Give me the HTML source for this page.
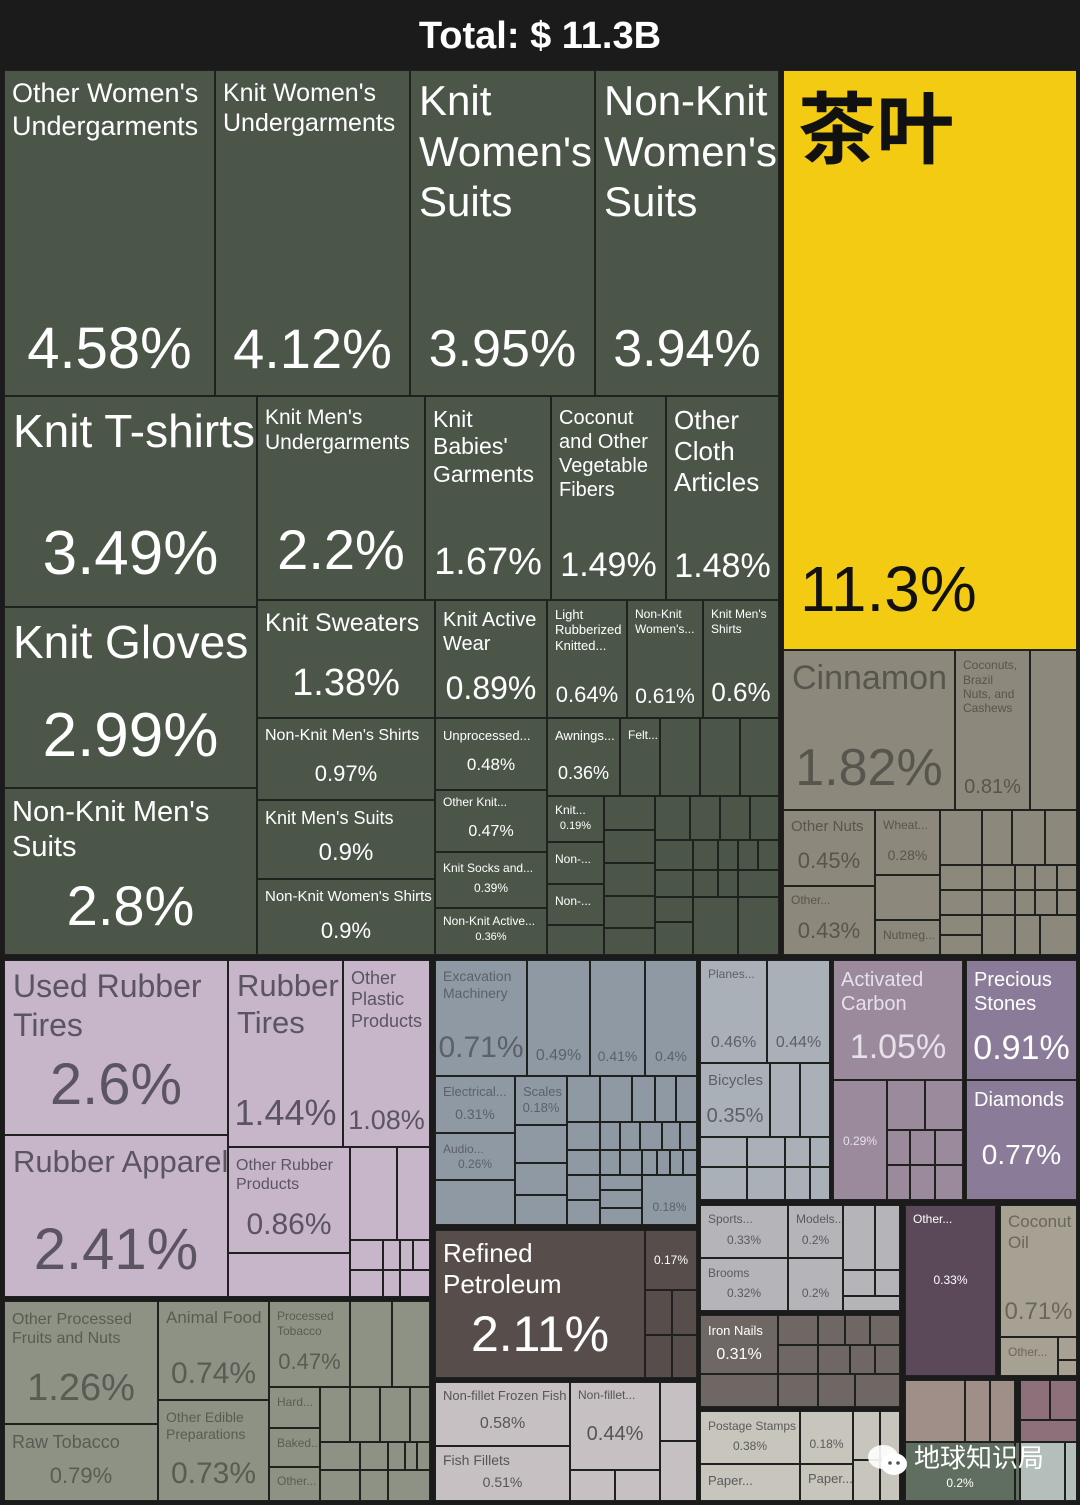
<!DOCTYPE html>
<html><head><meta charset="utf-8">
<style>
html,body{margin:0;padding:0;background:#1b1b1b;}
#root{position:relative;width:1080px;height:1505px;overflow:hidden;background:#1b1b1b;font-family:"Liberation Sans","Noto Sans CJK SC",sans-serif;}
#title{position:absolute;left:0;top:0;width:1080px;height:70px;line-height:72px;text-align:center;color:#fff;font-weight:bold;font-size:38px;}
.t{position:absolute;box-sizing:border-box;border:1.5px solid #1e211e;overflow:hidden;}
.l{position:absolute;left:8px;right:2px;white-space:pre;line-height:1.2;}
.p{position:absolute;left:0;right:0;text-align:center;white-space:nowrap;line-height:1.2;}
#wm{position:absolute;left:866px;top:1438px;color:#fff;font-size:26px;font-family:"Liberation Sans","Noto Sans CJK SC",sans-serif;}
</style></head>
<body>
<div id="root">
<div id="title">Total: $ 11.3B</div>
</div>
<script>
const colors={G:['#4b5649','#ffffff'],Y:['#f3cb12','#111111'],T:['#8c887b','#58554e'],L:['#c7b5ca','#5a5560'],F:['#8d9284','#595c54'],M:['#8f99a4','#5c6169'],V:['#aab0b7','#5d6067'],A:['#9a8a9c','#e6e0e8'],P:['#8a7c98','#ffffff'],R:['#574e4c','#ffffff'],H:['#c7c0c2','#555555'],S:['#b5b4b8','#5a5a5e'],N:['#6f6764','#ffffff'],Q:['#c8c5bd','#5a5a5a'],O:['#5b4858','#ffffff'],C:['#a7a193','#6a6658'],K:['#a08e89','#fff'],U:['#8d7079','#fff'],W:['#5f6e5f','#ffffff'],X:['#b4bebb','#555']};
// labelled tiles: [x1,y1,x2,y2,color,label,value,labelSize,labelCenterY,valueSize,valueCenterY]
const labels=["Other Women's\nUndergarments","Knit Women's\nUndergarments","Knit\nWomen's\nSuits","Non-Knit\nWomen's\nSuits","Knit T-shirts","Knit Gloves","Non-Knit Men's\nSuits","Knit Men's\nUndergarments","Knit\nBabies'\nGarments","Coconut\nand Other\nVegetable\nFibers","Other\nCloth\nArticles","Knit Sweaters","Knit Active\nWear","Light\nRubberized\nKnitted...","Non-Knit\nWomen's...","Knit Men's\nShirts","Non-Knit Men's Shirts","Knit Men's Suits","Non-Knit Women's Shirts","Unprocessed...","Other Knit...","Knit Socks and...","Non-Knit Active...","Awnings...","Felt...","Knit...","Non-...","Non-...","茶叶","Cinnamon","Coconuts,\nBrazil\nNuts, and\nCashews","Other Nuts","Wheat...","Other...","Nutmeg...","Used Rubber\nTires","Rubber Apparel","Rubber\nTires","Other\nPlastic\nProducts","Other Rubber\nProducts","Other Processed\nFruits and Nuts","Raw Tobacco","Animal Food","Other Edible\nPreparations","Processed\nTobacco","Hard...","Baked...","Other...","Excavation\nMachinery","","","","Electrical...","Audio...","Scales","","Planes...","","Bicycles","Activated\nCarbon","","Precious\nStones","Diamonds","Refined\nPetroleum","","Non-fillet Frozen Fish","Fish Fillets","Non-fillet...","Sports...","Models...","Brooms","","Iron Nails","Postage Stamps","","Paper...","Paper...","Other...","Coconut\nOil","Other...",""];
const values=["4.58%","4.12%","3.95%","3.94%","3.49%","2.99%","2.8%","2.2%","1.67%","1.49%","1.48%","1.38%","0.89%","0.64%","0.61%","0.6%","0.97%","0.9%","0.9%","0.48%","0.47%","0.39%","0.36%","0.36%","","0.19%","","","11.3%","1.82%","0.81%","0.45%","0.28%","0.43%","","2.6%","2.41%","1.44%","1.08%","0.86%","1.26%","0.79%","0.74%","0.73%","0.47%","","","","0.71%","0.49%","0.41%","0.4%","0.31%","0.26%","0.18%","0.18%","0.46%","0.44%","0.35%","1.05%","0.29%","0.91%","0.77%","2.11%","0.17%","0.58%","0.51%","0.44%","0.33%","0.2%","0.32%","0.2%","0.31%","0.38%","0.18%","","","0.33%","0.71%","","0.2%"];
const layout=[
[4,70,215,396,'G',27,94,58,349],[215,70,410,396,'G',25,93,56,349],[410,70,595,396,'G',42,102,52,350],[595,70,779,396,'G',42,102,52,350],
[4,396,257,607,'G',46,432,62,555],[4,607,257,788,'G',46,643,62,737],[4,788,257,955,'G',29,813,56,906],
[257,396,425,600,'G',21,418,56,550],[425,396,551,600,'G',23,420,38,563],[551,396,666,600,'G',20,418,34,566],[666,396,779,600,'G',26,421,34,567],
[257,600,435,718,'G',25,623,38,684],[435,600,547,718,'G',20,620,32,689],[547,600,627,718,'G',13,615,22,696],[627,600,703,718,'G',12,615,21,697],[703,600,779,718,'G',12,615,26,693],
[257,718,435,800,'G',16,736,22,775],[257,800,435,879,'G',18,819,24,854],[257,879,435,955,'G',15,897,22,932],
[435,718,547,790,'G',13,736,17,766],[435,790,547,852,'G',12,803,16,832],[435,852,547,908,'G',12,869,12,889],[435,908,547,955,'G',12,922,11,938],
[547,718,620,796,'G',13,736,18,774],[620,718,660,796,'G',12,736,12,0],[547,796,604,842,'G',12,811,11,827],[547,842,604,884,'G',12,860,12,0],[547,884,604,925,'G',12,902,12,0],
[783,70,1077,650,'Y',78,123,64,590],
[783,650,955,810,'T',34,679,52,769],[955,650,1030,810,'T',12,666,20,787],[783,810,875,886,'T',15,827,22,862],[875,810,940,875,'T',12,826,14,856],[783,886,875,955,'T',12,901,22,932],[875,920,940,955,'T',12,936,12,0],
[4,960,228,1135,'L',32,987,58,1085],[4,1135,228,1297,'L',31,1162,58,1250],[228,960,343,1147,'L',31,986,36,1113],[343,960,430,1147,'L',18,979,27,1121],[228,1147,350,1253,'L',16,1166,30,1225],
[4,1301,158,1424,'F',16,1320,38,1389],[4,1424,158,1501,'F',18,1443,22,1477],[158,1301,269,1400,'F',17,1319,30,1374],[158,1400,269,1501,'F',14,1418,30,1474],[269,1301,350,1387,'F',12,1317,22,1363],
[269,1387,320,1428,'F',12,1403,12,0],[269,1428,320,1467,'F',12,1444,12,0],[269,1467,320,1501,'F',12,1482,12,0],
[435,960,527,1076,'M',14,977,30,1048],[527,960,590,1076,'M',14,977,16,1056],[590,960,645,1076,'M',14,977,14,1057],[645,960,697,1076,'M',14,977,14,1057],
[435,1076,515,1133,'M',13,1092,14,1115],[435,1133,515,1180,'M',12,1150,12,1165],[515,1076,567,1125,'M',13,1092,13,1108],[642,1175,697,1225,'M',12,1190,12,1208],
[700,960,767,1063,'V',12,975,16,1043],[767,960,830,1063,'V',12,975,16,1043],[700,1063,770,1137,'V',15,1081,20,1116],
[833,960,963,1080,'A',20,980,34,1048],[833,1080,887,1200,'A',12,1100,12,1142],
[966,960,1077,1080,'P',20,980,34,1049],[966,1080,1077,1200,'P',20,1100,28,1155],
[435,1230,645,1378,'R',26,1254,50,1334],[645,1230,697,1290,'R',12,1245,12,1261],
[435,1382,570,1446,'H',13,1396,16,1424],[435,1446,570,1501,'H',14,1461,14,1483],[570,1382,660,1470,'H',12,1396,20,1434],
[700,1205,788,1258,'S',12,1220,12,1241],[788,1205,843,1258,'S',12,1220,12,1241],[700,1258,788,1311,'S',12,1274,12,1294],[788,1258,843,1311,'S',12,1274,12,1294],
[700,1315,778,1374,'N',13,1331,16,1355],
[700,1411,800,1464,'Q',12,1427,12,1447],[800,1411,853,1464,'Q',12,1427,12,1445],[700,1464,800,1501,'Q',13,1481,12,0],[800,1464,853,1501,'Q',13,1479,12,0],
[905,1205,996,1376,'O',12,1220,12,1281],[1000,1205,1077,1337,'C',17,1223,24,1313],[1000,1337,1058,1376,'C',12,1353,12,0],
[905,1442,1015,1501,'W',12,1460,12,1484]
];
// unlabelled small tiles: [x1,y1,x2,y2,color]
const blanks=[
[660,718,700,796,'G'],[700,718,740,796,'G'],[740,718,779,796,'G'],[547,925,604,955,'G'],
[604,796,655,830,'G'],[604,830,655,863,'G'],[604,863,655,896,'G'],[604,896,655,928,'G'],[604,928,655,955,'G'],
[655,796,690,840,'G'],[690,796,720,840,'G'],[720,796,750,840,'G'],[750,796,779,840,'G'],
[655,840,693,870,'G'],[693,840,718,870,'G'],[718,840,738,870,'G'],[738,840,758,870,'G'],[758,840,779,870,'G'],
[655,870,693,897,'G'],[693,870,718,897,'G'],[718,870,738,897,'G'],[738,870,779,897,'G'],
[655,897,693,922,'G'],[693,897,738,955,'G'],[738,897,779,955,'G'],[655,922,693,955,'G'],
[1030,650,1077,810,'T'],[875,875,940,920,'T'],[940,810,982,865,'T'],[982,810,1012,865,'T'],[1012,810,1045,865,'T'],[1045,810,1077,865,'T'],
[940,865,982,890,'T'],[982,865,1015,890,'T'],[1015,865,1035,890,'T'],[1035,865,1057,890,'T'],[1057,865,1077,890,'T'],
[940,890,982,915,'T'],[982,890,1015,915,'T'],[1015,890,1035,915,'T'],[1035,890,1057,915,'T'],[1057,890,1077,915,'T'],
[940,915,982,935,'T'],[940,935,982,955,'T'],[982,915,1015,955,'T'],[1015,915,1040,955,'T'],[1040,915,1077,955,'T'],
[228,1253,350,1297,'L'],[350,1147,397,1240,'L'],[397,1147,430,1240,'L'],[350,1240,383,1270,'L'],[383,1240,400,1270,'L'],[400,1240,413,1270,'L'],[413,1240,430,1270,'L'],[350,1270,383,1297,'L'],[383,1270,400,1297,'L'],[400,1270,430,1297,'L'],
[350,1301,392,1387,'F'],[392,1301,430,1387,'F'],[320,1387,350,1442,'F'],[350,1387,380,1442,'F'],[380,1387,410,1442,'F'],[410,1387,430,1442,'F'],
[320,1442,360,1470,'F'],[360,1442,388,1470,'F'],[388,1442,405,1470,'F'],[405,1442,417,1470,'F'],[417,1442,430,1470,'F'],[320,1470,360,1501,'F'],[360,1470,388,1501,'F'],[388,1470,430,1501,'F'],
[435,1180,515,1225,'M'],[515,1125,567,1163,'M'],[515,1163,567,1195,'M'],[515,1195,567,1225,'M'],
[567,1076,600,1122,'M'],[600,1076,632,1122,'M'],[632,1076,655,1122,'M'],[655,1076,676,1122,'M'],[676,1076,697,1122,'M'],
[567,1122,600,1150,'M'],[600,1122,620,1150,'M'],[620,1122,640,1150,'M'],[640,1122,662,1150,'M'],[662,1122,680,1150,'M'],[680,1122,697,1150,'M'],
[567,1150,600,1175,'M'],[600,1150,620,1175,'M'],[620,1150,642,1175,'M'],[642,1150,657,1175,'M'],[657,1150,670,1175,'M'],[670,1150,683,1175,'M'],[683,1150,697,1175,'M'],
[567,1175,600,1200,'M'],[567,1200,600,1225,'M'],[600,1175,642,1190,'M'],[600,1190,642,1208,'M'],[600,1208,642,1225,'M'],
[770,1063,800,1137,'V'],[800,1063,830,1137,'V'],[700,1137,747,1167,'V'],[747,1137,785,1167,'V'],[785,1137,810,1167,'V'],[810,1137,830,1167,'V'],[700,1167,747,1200,'V'],[747,1167,785,1200,'V'],[785,1167,810,1200,'V'],[810,1167,830,1200,'V'],
[887,1080,925,1130,'A'],[925,1080,963,1130,'A'],[887,1130,910,1165,'A'],[910,1130,935,1165,'A'],[935,1130,963,1165,'A'],[887,1165,910,1200,'A'],[910,1165,935,1200,'A'],[935,1165,963,1200,'A'],
[645,1290,672,1335,'R'],[672,1290,697,1335,'R'],[645,1335,672,1378,'R'],[672,1335,697,1378,'R'],
[570,1470,615,1501,'H'],[615,1470,660,1501,'H'],[660,1382,697,1441,'H'],[660,1441,697,1501,'H'],
[843,1205,875,1270,'S'],[875,1205,900,1270,'S'],[843,1270,875,1296,'S'],[875,1270,900,1296,'S'],[843,1296,900,1311,'S'],
[778,1315,818,1345,'N'],[818,1315,845,1345,'N'],[845,1315,870,1345,'N'],[870,1315,900,1345,'N'],[778,1345,818,1374,'N'],[818,1345,850,1374,'N'],[850,1345,875,1374,'N'],[875,1345,900,1374,'N'],
[700,1374,778,1407,'N'],[778,1374,818,1407,'N'],[818,1374,855,1407,'N'],[855,1374,900,1407,'N'],
[853,1411,880,1460,'Q'],[880,1411,900,1460,'Q'],[853,1460,880,1501,'Q'],[880,1460,900,1501,'Q'],
[996,1205,996,1205,'O'],[905,1298,948,1350,'O'],[948,1298,975,1350,'O'],[975,1298,996,1350,'O'],[905,1350,948,1376,'O'],[948,1350,996,1376,'O'],[958,1205,996,1298,'O'],
[1058,1337,1077,1360,'C'],[1058,1360,1077,1376,'C'],
[905,1380,965,1442,'K'],[965,1380,990,1442,'K'],[990,1380,1015,1442,'K'],[1020,1380,1050,1420,'U'],[1050,1380,1077,1420,'U'],[1020,1420,1077,1442,'U'],
[1015,1442,1020,1501,'W'],[1020,1442,1065,1501,'X'],[1065,1442,1077,1501,'X']
];
const root=document.getElementById('root');
function slug(s){return (s||'tile').toLowerCase().replace(/[^a-z0-9\u4e00-\u9fff]+/g,'-').replace(/^-|-$/g,'')||'tile';}
blanks.forEach(b=>{
  const d=document.createElement('div');d.className='t';
  
  
  d.style.cssText=`left:${b[0]}px;top:${b[1]}px;width:${b[2]-b[0]}px;height:${b[3]-b[1]}px;background:${colors[b[4]][0]}`;
  root.appendChild(d);
});
layout.forEach((r,i)=>{
  const [x1,y1,x2,y2,c,ls,ly,ps,py]=r;const col=colors[c];
  const d=document.createElement('div');d.className='t';
  
  
  d.style.cssText=`left:${x1}px;top:${y1}px;width:${x2-x1}px;height:${y2-y1}px;background:${col[0]}`;
  if(labels[i]){
    const l=document.createElement('div');l.className='l';
    
    
    l.textContent=labels[i];
    l.style.cssText=`font-size:${ls}px;top:${ly-y1-ls*0.6-1.5}px;color:${col[1]};left:${ls>30?8:7}px`;
    if(c==='Y'){l.style.fontFamily='"Noto Sans CJK SC",sans-serif';l.style.fontWeight='bold';l.style.left='14px';l.style.lineHeight='1';l.style.top=(ly-y1-ls*0.5)+'px';}
    d.appendChild(l);
  }
  if(values[i]&&py){
    const p=document.createElement('div');p.className='p';
    
    
    p.textContent=values[i];
    p.style.cssText=`font-size:${ps}px;top:${py-y1-ps*0.6-1.5}px;color:${col[1]}`;
    if(c==='Y'){p.style.textAlign='left';p.style.left='16px';}
    d.appendChild(p);
  }
  root.appendChild(d);
});
const wm=document.createElement('div');wm.id='wm';


wm.innerHTML='<svg width="44" height="36" style="vertical-align:middle;margin-right:4px"><ellipse cx="17" cy="15" rx="15" ry="12" fill="#fff" opacity="0.9"/><ellipse cx="28" cy="22" rx="13" ry="11" fill="#fff"/><circle cx="24" cy="21" r="1.8" fill="#555"/><circle cx="32" cy="21" r="1.8" fill="#555"/></svg>地球知识局';
root.appendChild(wm);
</script>
</body></html>
